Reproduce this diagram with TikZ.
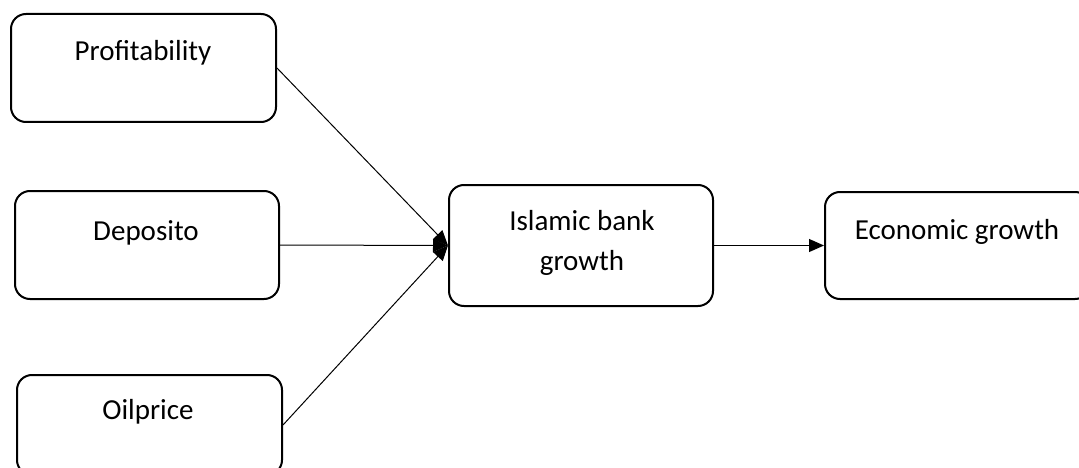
\documentclass[tikz,border=0pt]{standalone}
\usepackage{fontspec}
\setmainfont{Carlito}
\usetikzlibrary{arrows.meta}
\begin{document}
\begin{tikzpicture}[x=1pt,y=-1pt,
  box/.style={draw=black,line width=2pt,rounded corners=15pt,fill=white,inner sep=0pt},
  lbl/.style={font=\fontsize{29}{40}\selectfont,align=center,inner sep=0pt},
  conn/.style={line width=1pt,-{Triangle[length=15pt,width=13pt]}}]
\useasboundingbox (0,0) rectangle (1079,468);
\clip (0,0) rectangle (1079,468);
\node[box,minimum width=265pt,minimum height=108pt] (p) at (143.5,68) {};
\node[box,minimum width=264pt,minimum height=108pt] (d) at (147,245) {};
\node[box,minimum width=265pt,minimum height=100pt] (o) at (149.5,425) {};
\node[box,minimum width=264pt,minimum height=121pt] (i) at (581,245.5) {};
\node[box,minimum width=265pt,minimum height=107pt] (e) at (957.5,245.5) {};
\node[lbl] (pt) at (143,53) {Profitability};
\node[lbl] (dt) at (146,233) {Deposito};
\node[lbl] (ot) at (148,412) {Oilprice};
\node[lbl] (it) at (582,243) {Islamic bank\\growth};
\node[lbl] (et) at (957,232) {Economic growth};
\draw[conn] (p.east) -- (i.west);
\draw[conn] (d.east) -- (i.west);
\draw[conn] (o.east) -- (i.west);
\draw[conn] (i.east) -- (e.west);
\end{tikzpicture}
\end{document}
